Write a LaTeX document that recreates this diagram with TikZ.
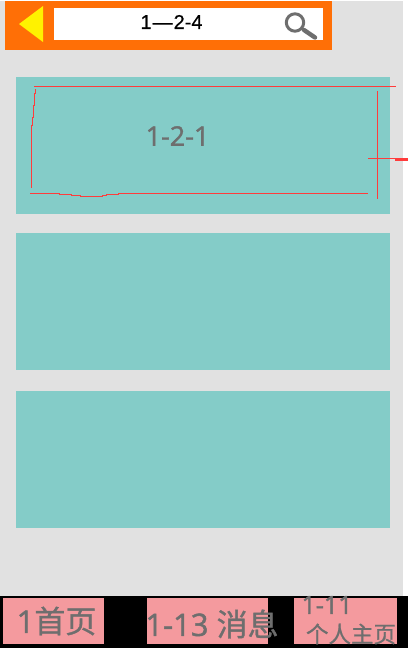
\documentclass[tikz,border=0pt]{standalone}
\usepackage{fontspec}
\setmainfont{Liberation Sans}
\newfontfamily\titlefont[FakeBold=0.4]{Liberation Sans}
\newfontfamily\labelfont[FakeBold=1.5]{Open Sans}
\newfontfamily\cjk[FakeBold=1.0]{Noto Sans CJK SC}
\definecolor{pagegray}{HTML}{E1E1E1}
\definecolor{barorange}{HTML}{FF6F06}
\definecolor{cardteal}{HTML}{84CCC8}
\definecolor{tabpink}{HTML}{F49A9E}
\definecolor{inkgray}{HTML}{6E6E6E}
\definecolor{sketchred}{HTML}{FF3B3B}
\tikzset{
  x=1pt,y=-1pt,
  card/.style={fill=cardteal,draw=none},
  tabbox/.style={fill=tabpink,draw=none},
  redline/.style={draw=sketchred,line width=1pt},
  graylabel/.style={text=inkgray,inner sep=0pt,anchor=center}
}
\begin{document}
\begin{tikzpicture}
\useasboundingbox (0,0) rectangle (408,648);
\fill[white] (0,0) rectangle (408,648);
\fill[pagegray] (0,1) rectangle (403,596);
\fill[black] (0,596) rectangle (408,648);
% header
\fill[barorange] (5,1) rectangle (332,50);
\fill[white] (54,8) rectangle (323,40);
\fill[yellow] (19,24) -- (43,6) -- (43,42) -- cycle;
\node[inner sep=0pt,font=\titlefont\fontsize{20}{20}\selectfont] (title) at (171.5,22) {1\kern1pt—\kern1pt2-4};
\draw[inkgray,line width=3pt] (295,22.5) circle (8.7);
\draw[inkgray,line width=4.4pt,line cap=round] (304,30) -- (315,37.5);
% cards
\fill[card] (16,77) rectangle (390,214);
\fill[card] (16,233) rectangle (390,370);
\fill[card] (16,391) rectangle (390,528);
\node[graylabel,font=\labelfont\fontsize{27}{27}\selectfont] (one) at (177.5,136) {1-2-1};
% sketch lines
\draw[redline] (34,86.3) -- (396,86.3);
\draw[redline] (377.3,91) -- (377.3,199);
\draw[redline] (368,158.3) -- (395,158.3);
\draw[sketchred,line width=2.4pt] (395,159.5) -- (408,159.5);
\draw[redline] (30,193.3) -- (59,193.3) -- (59,194.3) -- (71,194.3) -- (71,195.3) -- (80,195.3) -- (80,196.3) -- (102,196.3) -- (102,195.3) -- (106,195.3) -- (106,194.3) -- (118,194.3) -- (118,193.3) -- (368,193.3);
\draw[redline] (35.7,89) -- (35.7,93.7) -- (34.7,93.7) -- (34.7,105) -- (33.3,105) -- (33.3,117.7) -- (32.3,117.7) -- (32.3,125) -- (31.3,125) -- (31.3,188);
% tabs
\fill[tabbox] (3,598) rectangle (104,644);
\fill[tabbox] (147,598) rectangle (268,644);
\fill[tabbox] (294,598) rectangle (397,644);
\node[graylabel,font=\fontsize{31}{31}\selectfont] (home) at (56.5,621) {\labelfont 1\cjk 首页};
\node[graylabel,font=\fontsize{31}{31}\selectfont] (msg) at (212,624) {\labelfont 1-13 \cjk 消息};
\node[graylabel,font=\labelfont\fontsize{25}{25}\selectfont] (me1) at (327,605) {1-11};
\node[graylabel,font=\cjk\fontsize{22.5}{22.5}\selectfont] (me2) at (351,634) {个人主页};
\end{tikzpicture}
\end{document}
